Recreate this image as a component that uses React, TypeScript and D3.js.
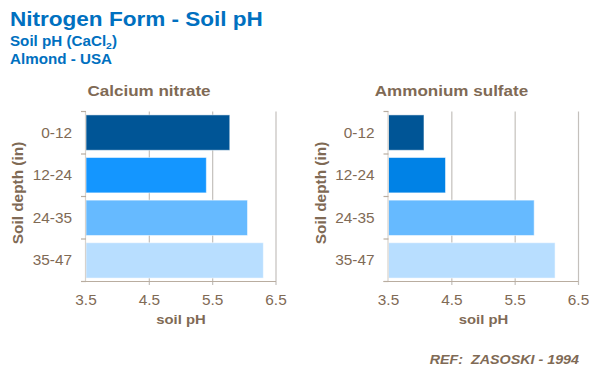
import React from "react";
import * as d3 from "d3";

const categories = ["0-12", "12-24", "24-35", "35-47"];
const calciumNitrate = [5.77, 5.4, 6.05, 6.3];
const ammoniumSulfate = [4.06, 4.4, 5.8, 6.13];
const xTicks = [3.5, 4.5, 5.5, 6.5];
const colorsLeft = ["#005596", "#1496FF", "#66BAFF", "#B8DEFF"];
const colorsRight = ["#005596", "#0082E6", "#66BAFF", "#B8DEFF"];

const brown = "#7F6A55";
const font = "Liberation Sans, Arial, sans-serif";
const SX = 1.1;

function T({ x, y, rotate = 0, children, ...rest }: any) {
  return (
    <text transform={`translate(${x},${y}) rotate(${rotate}) scale(${SX},1)`} fontFamily={font} style={{ whiteSpace: "pre" }} {...rest}>
      {children}
    </text>
  );
}

function Panel({ x0, title, values, colors }: { x0: number; title: string; values: number[]; colors: string[] }) {
  const x = d3.scaleLinear().domain([3.5, 6.5]).range([x0, x0 + 190]);
  const y = d3.scaleBand().domain(categories).range([111.5, 281.5]).paddingInner(0.17).paddingOuter(0.08);
  const band = d3.scaleBand().domain(categories).range([111.5, 281.5]);
  const cx = (x0 + x0 + 190) / 2;
  return (
    <g>
      <T x={cx - 32} y={96} textAnchor="middle" fontWeight="bold" fontSize={15.5} fill={brown}>{title}</T>
      {xTicks.slice(1).map((t) => (
        <line key={t} x1={x(t)} x2={x(t)} y1={111.5} y2={285} stroke="#C4C0BC" strokeWidth={1.2} />
      ))}
      {categories.map((c, i) => (
        <rect key={c} x={x(3.5)} y={y(c)} width={x(values[i]) - x(3.5)} height={y.bandwidth()} fill={colors[i]} stroke="#ffffff" strokeOpacity={0.5} strokeWidth={1} />
      ))}
      <line x1={x0 - 0.5} x2={x0 - 0.5} y1={111.5} y2={281.5} stroke="#D8D2CC" strokeWidth={1.2} />
      {[...categories.map((c) => band(c)!), 281.5].map((v, i) => (
        <line key={i} x1={x0 - 5} x2={x0} y1={v} y2={v} stroke="#B9ADA0" strokeWidth={1.2} />
      ))}
      <line x1={x0 - 5} x2={x0 + 190} y1={281.5} y2={281.5} stroke="#B9ADA0" strokeWidth={1.2} />
      {categories.map((c) => (
        <T key={c} x={x0 - 14} y={band(c)! + band.bandwidth() / 2 + 5} textAnchor="end" fontSize={14} fill={brown}>{c}</T>
      ))}
      {xTicks.map((t) => (
        <T key={t} x={x(t)} y={305} textAnchor="middle" fontSize={14} fill={brown}>{t.toFixed(1)}</T>
      ))}
      <T x={cx} y={324} textAnchor="middle" fontWeight="bold" fontSize={13.5} fill={brown}>soil pH</T>
      <T x={x0 - 63} y={193} rotate={-90} textAnchor="middle" fontWeight="bold" fontSize={14} fill={brown}>Soil depth (in)</T>
    </g>
  );
}

export default function App() {
  return (
    <svg width={600} height={377} style={{ position: "absolute", left: 0, top: 0, background: "#fff" }}>
      <T x={10} y={26} fontWeight="bold" fontSize={20.5} fill="#0070C0">Nitrogen Form - Soil pH</T>
      <T x={10} y={46} fontWeight="bold" fontSize={13.8} fill="#0070C0">
        Soil pH (CaCl<tspan fontSize={9.5} dy={3}>2</tspan><tspan dy={-3}>)</tspan>
      </T>
      <T x={10} y={64} fontWeight="bold" fontSize={13.8} fill="#0070C0">Almond - USA</T>
      <Panel x0={86} title="Calcium nitrate" values={calciumNitrate} colors={colorsLeft} />
      <Panel x0={388.5} title="Ammonium sulfate" values={ammoniumSulfate} colors={colorsRight} />
      <T x={579} y={364} textAnchor="end" fontWeight="bold" fontStyle="italic" fontSize={13} fill={brown}>{"REF:  ZASOSKI - 1994"}</T>
    </svg>
  );
}
